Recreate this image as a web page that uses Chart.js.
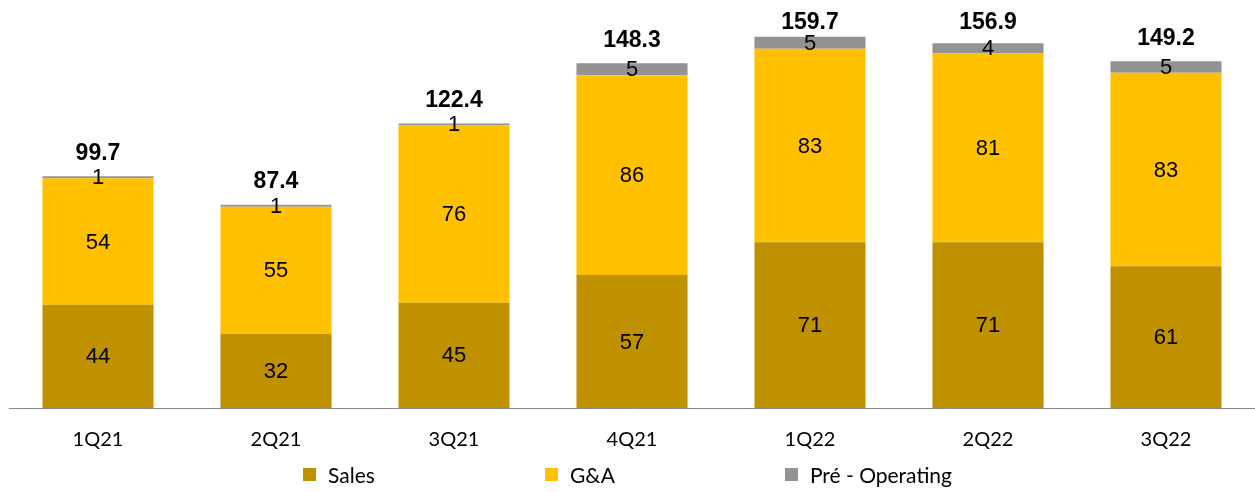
<!DOCTYPE html>
<html>
<head>
<meta charset="utf-8">
<script src="https://cdn.jsdelivr.net/npm/chart.js@4"></script>
<style>
  html, body { margin: 0; padding: 0; background: #fff; }
  #wrap { position: relative; width: 1255px; height: 492px; }
  #legend {
    position: absolute; left: 0; top: 462px; width: 1255px;
    display: flex; justify-content: center; gap: 170px;
    font-family: Lato, sans-serif; font-size: 21px; color: #000;
  }
  #legend span.item { display: flex; align-items: center; }
  #legend span.box { display: inline-block; width: 13px; height: 13px; margin-right: 12px; }
</style>
</head>
<body>
<div id="wrap">
  <canvas id="costChart" width="1255" height="492"></canvas>
  <div id="legend"></div>
</div>
<script>
// Quarterly data
const quarters = ['1Q21', '2Q21', '3Q21', '4Q21', '1Q22', '2Q22', '3Q22'];
const sales = [44.4, 31.9, 45.3, 57.2, 71.3, 71.3, 61.0];
const gAndA = [54.4, 54.7, 76.3, 85.9, 83.2, 81.2, 83.2];
const preOperating = [0.9, 0.8, 0.8, 5.2, 5.2, 4.4, 5.0];

const colors = ['#BF9000', '#FFC000', '#939393'];

// draws the values inside each segment and the total above each bar
const labelPlugin = {
  id: 'barLabels',
  afterDatasetsDraw(chart) {
    const ctx = chart.ctx;
    ctx.save();
    ctx.fillStyle = '#000';
    ctx.textAlign = 'center';
    ctx.textBaseline = 'middle';
    ctx.font = '22px "Liberation Sans", Arial, sans-serif';
    chart.data.datasets.forEach((ds, i) => {
      const meta = chart.getDatasetMeta(i);
      meta.data.forEach((bar, j) => {
        ctx.fillText(Math.round(ds.data[j]), bar.x, (bar.y + bar.base) / 2 + 1);
      });
    });
    // totals
    ctx.font = 'bold 23px "Liberation Sans", Arial, sans-serif';
    ctx.textBaseline = 'alphabetic';
    const last = chart.getDatasetMeta(chart.data.datasets.length - 1);
    last.data.forEach((bar, j) => {
      const total = chart.data.datasets.reduce((s, ds) => s + ds.data[j], 0);
      const y = Math.max(bar.y - 16.5, 29);
      ctx.fillText(total.toFixed(1), bar.x, y);
    });
    ctx.restore();
  }
};

const ctx = document.getElementById('costChart').getContext('2d');
const costChart = new Chart(ctx, {
  type: 'bar',
  data: {
    labels: quarters,
    datasets: [
      { label: 'Sales', data: sales, backgroundColor: colors[0] },
      { label: 'G&A', data: gAndA, backgroundColor: colors[1] },
      { label: 'Pré - Operating', data: preOperating, backgroundColor: colors[2] }
    ]
  },
  options: {
    responsive: false,
    animation: false,
    layout: { padding: { top: 12.8, left: 9, right: 0, bottom: 28 } },
    datasets: { bar: { categoryPercentage: 1, barPercentage: 0.624 } },
    scales: {
      x: {
        stacked: true,
        grid: { display: false },
        border: { display: true, color: '#898989', width: 1 },
        ticks: { color: '#000', padding: 12, font: { family: 'Lato', size: 20 } }
      },
      y: {
        stacked: true,
        display: false,
        min: 0,
        max: 170
      }
    },
    plugins: {
      legend: { display: false },
      tooltip: { enabled: false }
    }
  },
  plugins: [labelPlugin]
});

// HTML legend built from the datasets
const legendEl = document.getElementById('legend');
costChart.data.datasets.forEach(ds => {
  const item = document.createElement('span');
  item.className = 'item';
  const box = document.createElement('span');
  box.className = 'box';
  box.style.background = ds.backgroundColor;
  item.appendChild(box);
  item.appendChild(document.createTextNode(ds.label));
  legendEl.appendChild(item);
});
</script>
</body>
</html>
